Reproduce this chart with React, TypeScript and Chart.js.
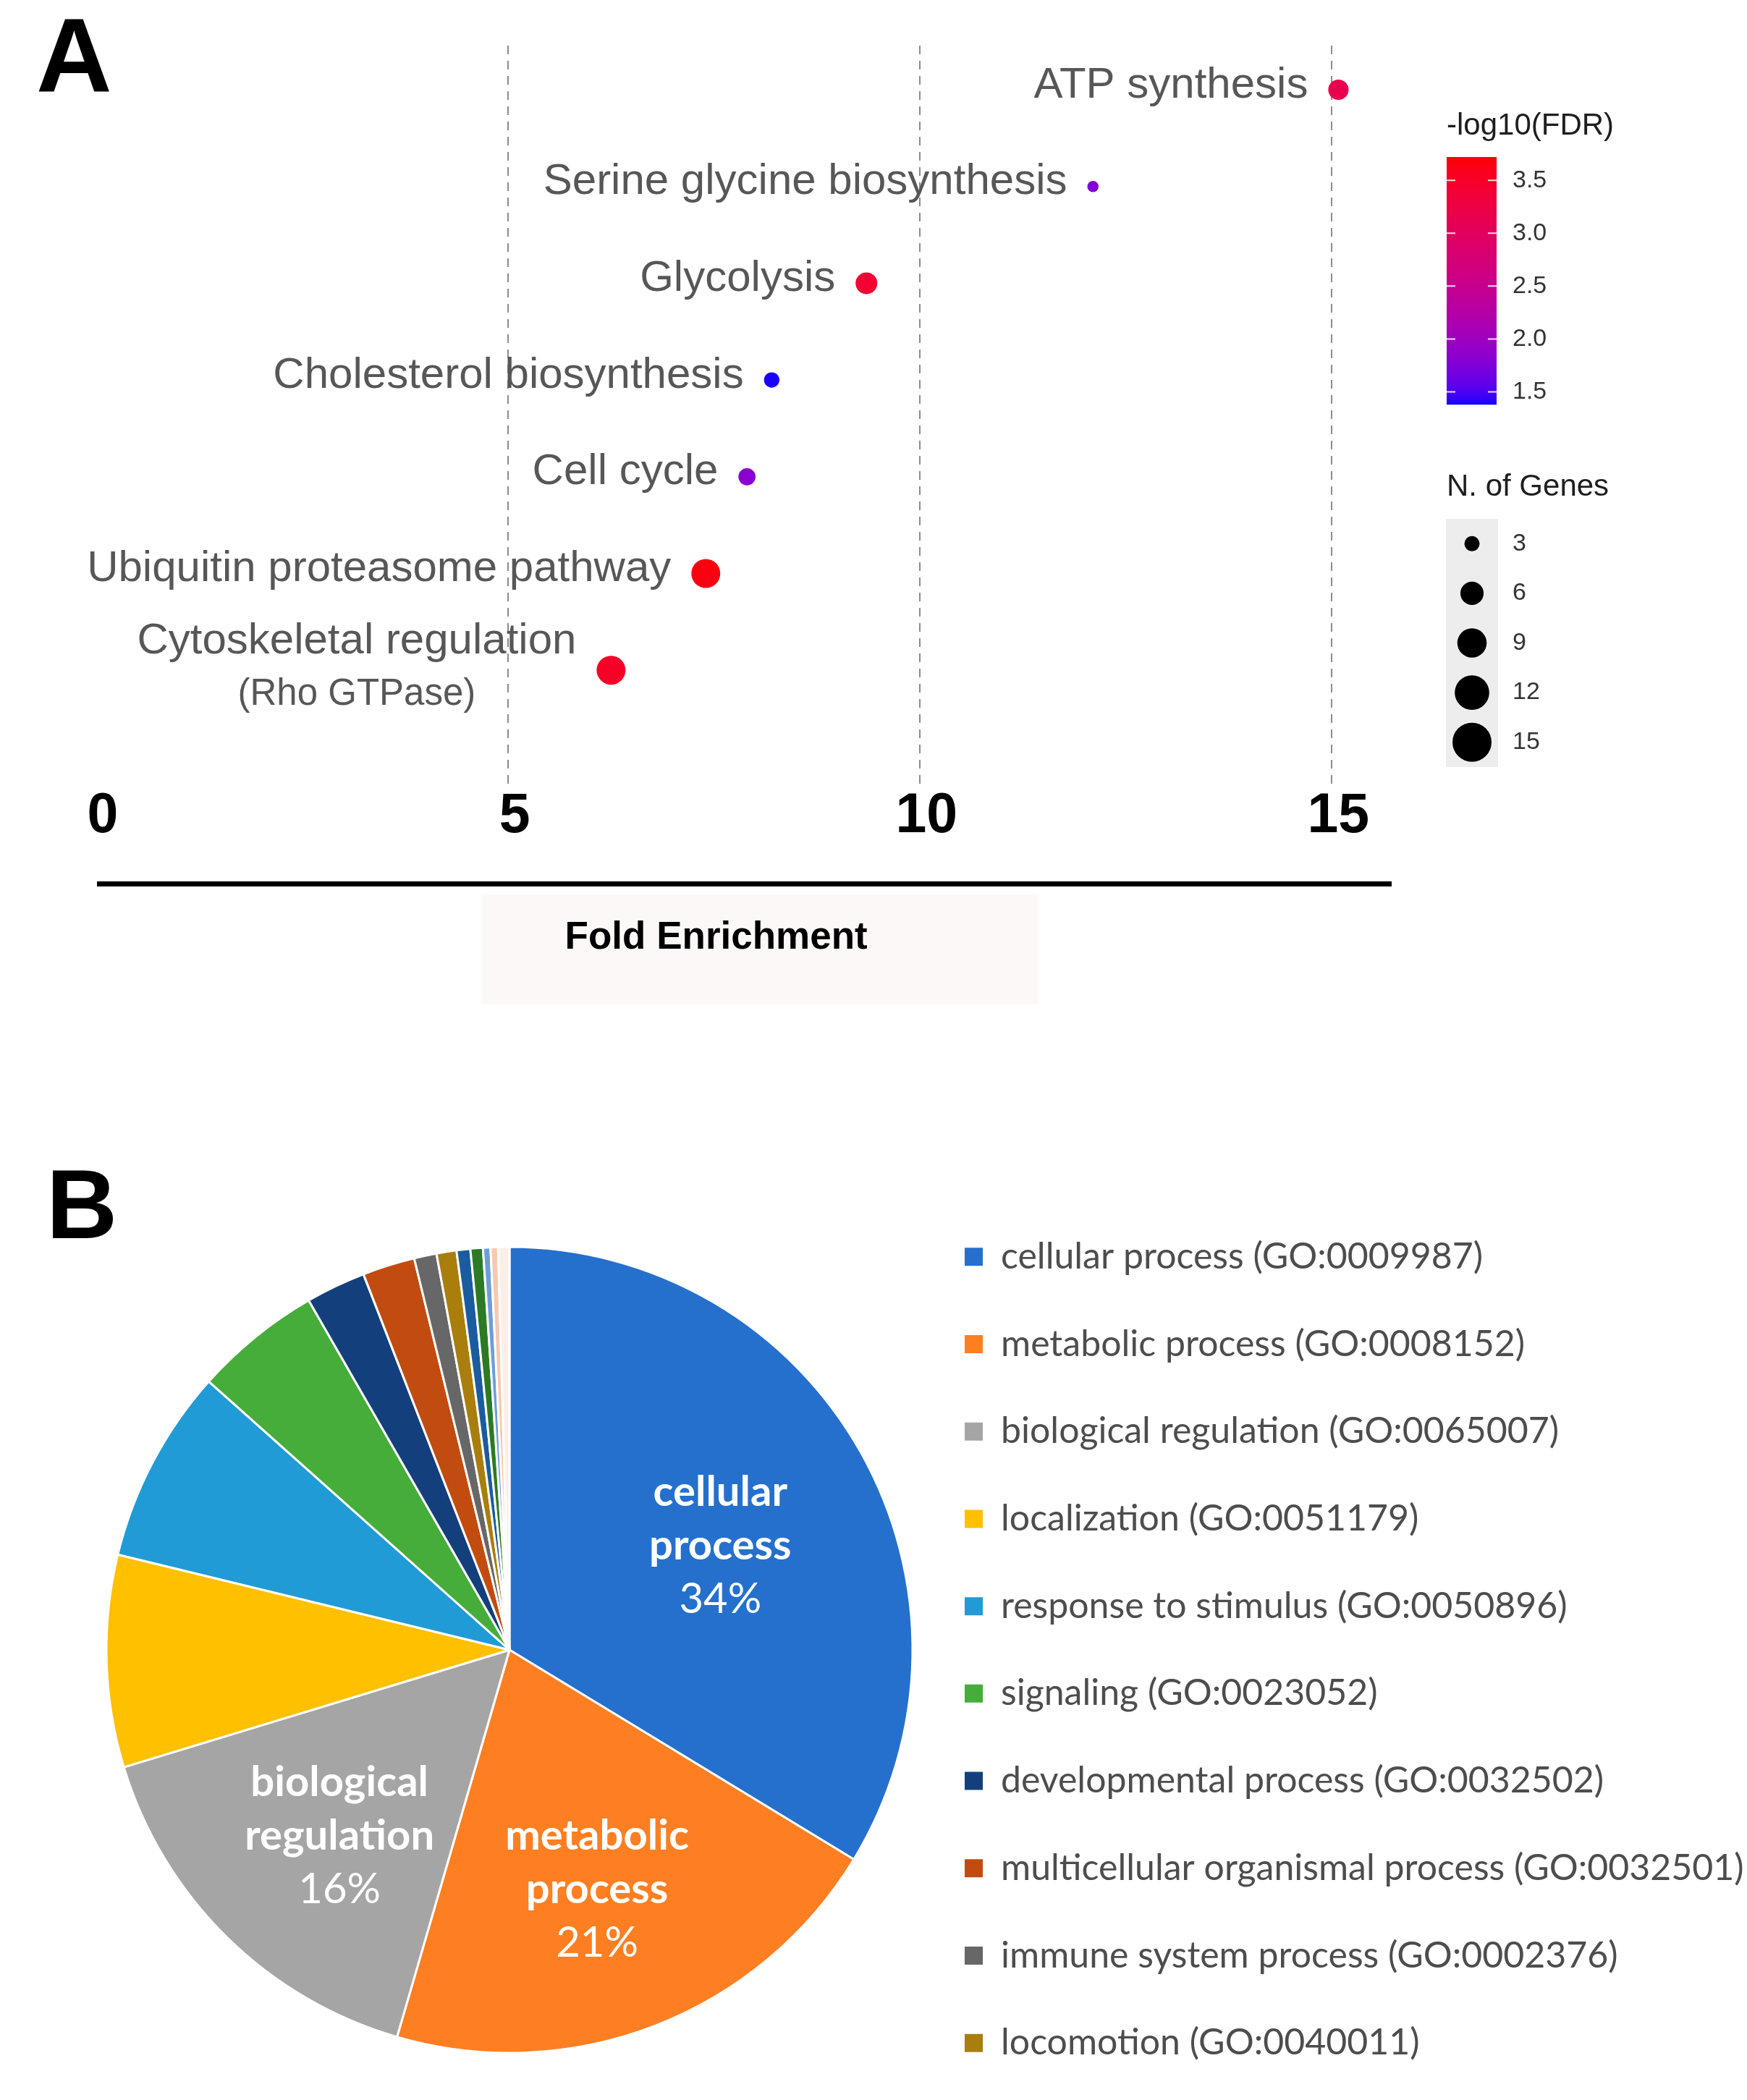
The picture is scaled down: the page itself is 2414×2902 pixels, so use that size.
import React, { useEffect, useRef } from 'react';
import { Chart, registerables } from 'chart.js';

Chart.register(...registerables);

// ---------- Panel A data ----------
const pathwayNames = [
  'ATP synthesis',
  'Serine glycine biosynthesis',
  'Glycolysis',
  'Cholesterol biosynthesis',
  'Cell cycle',
  'Ubiquitin proteasome pathway',
  'Cytoskeletal regulation\n(Rho GTPase)',
];
const foldEnrichment = [15.08, 12.1, 9.35, 8.2, 7.9, 7.4, 6.25];
const negLog10FDR = [3.15, 1.78, 3.4, 1.4, 1.82, 3.65, 3.5];
const geneCounts = [8, 3, 9, 5, 6, 15, 15];
const xTickStep = 5;
const fdrLegendTicks = [1.5, 2.0, 2.5, 3.0, 3.5];
const fdrRange = [1.38, 3.72];
const geneLegendTicks = [3, 6, 9, 12, 15];
const geneRange = [3, 15];

// ---------- Panel B data ----------
const goTerms = [
  'cellular process (GO:0009987)',
  'metabolic process (GO:0008152)',
  'biological regulation (GO:0065007)',
  'localization (GO:0051179)',
  'response to stimulus (GO:0050896)',
  'signaling (GO:0023052)',
  'developmental process (GO:0032502)',
  'multicellular organismal process (GO:0032501)',
  'immune system process (GO:0002376)',
  'locomotion (GO:0040011)',
  'biological adhesion (GO:0022610)',
  'reproduction (GO:0000003)',
  'growth (GO:0040007)',
  'rhythmic process (GO:0048511)',
  'behavior (GO:0007610)',
];
const goPercents = [33.7, 20.8, 15.8, 8.5, 7.8, 5.1, 2.4, 2.1, 0.9, 0.8, 0.55, 0.5, 0.3, 0.3, 0.45];
const goColors = [
  '#2570cc', '#fd7f22', '#a5a5a5', '#ffc000', '#219bd6', '#46ad3a', '#143f7d', '#c24b0f',
  '#676767', '#a97e0c', '#1a5c9e', '#2d7a24', '#6d9dd8', '#f9c7b0', '#fbeee8',
];
const legendCount = 10;
const labelledSlices = 3;

// ---------- helpers ----------
const SANS = '"Liberation Sans", Arial, Helvetica, sans-serif';
const LATO = 'Lato';

function lin(c: number) { c /= 255; return c <= 0.04045 ? c / 12.92 : Math.pow((c + 0.055) / 1.055, 2.4); }
function unlin(c: number) {
  const v = c <= 0.0031308 ? 12.92 * c : 1.055 * Math.pow(c, 1 / 2.4) - 0.055;
  return Math.round(Math.max(0, Math.min(1, v)) * 255);
}
function rgbToLab(rgb: number[]) {
  const R = lin(rgb[0]), G = lin(rgb[1]), B = lin(rgb[2]);
  const X = (0.4124 * R + 0.3576 * G + 0.1805 * B) / 0.95047;
  const Y = 0.2126 * R + 0.7152 * G + 0.0722 * B;
  const Z = (0.0193 * R + 0.1192 * G + 0.9505 * B) / 1.08883;
  const f = (t: number) => (t > 0.008856 ? Math.cbrt(t) : 7.787 * t + 16 / 116);
  const fx = f(X), fy = f(Y), fz = f(Z);
  return [116 * fy - 16, 500 * (fx - fy), 200 * (fy - fz)];
}
function labToRgb(lab: number[]) {
  const fy = (lab[0] + 16) / 116, fx = fy + lab[1] / 500, fz = fy - lab[2] / 200;
  const inv = (t: number) => (t * t * t > 0.008856 ? t * t * t : (t - 16 / 116) / 7.787);
  const X = inv(fx) * 0.95047, Y = inv(fy), Z = inv(fz) * 1.08883;
  const R = 3.2406 * X - 1.5372 * Y - 0.4986 * Z;
  const G = -0.9689 * X + 1.8758 * Y + 0.0415 * Z;
  const B = 0.0557 * X - 0.204 * Y + 1.057 * Z;
  return `rgb(${unlin(R)},${unlin(G)},${unlin(B)})`;
}
const LOW = rgbToLab([0, 0, 255]);
const HIGH = rgbToLab([255, 0, 0]);
function fdrColor(v: number) {
  const t = Math.max(0, Math.min(1, (v - fdrRange[0]) / (fdrRange[1] - fdrRange[0])));
  return labToRgb([0, 1, 2].map((k) => LOW[k] + (HIGH[k] - LOW[k]) * t));
}
function geneRadius(n: number) {
  const s0 = Math.sqrt(geneRange[0]), s1 = Math.sqrt(geneRange[1]);
  return 10.5 + 16.5 * (Math.sqrt(n) - s0) / (s1 - s0);
}
const PLOT_SIZE_SCALE = 0.74;

// ---------- plugins for panel A ----------
const pathwayLabelPlugin = {
  id: 'pathwayLabels',
  afterDatasetsDraw(chart: any) {
    const ctx = chart.ctx;
    const meta = chart.getDatasetMeta(0);
    ctx.save();
    ctx.fillStyle = '#575757';
    ctx.textBaseline = 'middle';
    ctx.textAlign = 'center';
    meta.data.forEach((pt: any, i: number) => {
      const r = pt.options.radius;
      const lines = pathwayNames[i].split('\n');
      const fonts = lines.map((_, k) => (k === 0 ? `60px ${SANS}` : `51px ${SANS}`));
      const widths = lines.map((l, k) => { ctx.font = fonts[k]; return ctx.measureText(l).width; });
      const blockW = Math.max(...widths);
      const right = pt.x - r - 28;
      const cx = right - blockW / 2;
      const gap = 67;
      const y0 = pt.y - 6 - ((lines.length - 1) * gap) / 2;
      lines.forEach((l, k) => {
        ctx.font = fonts[k];
        ctx.fillText(l, cx, y0 + k * gap + (k > 0 ? 6 : 0));
      });
    });
    ctx.restore();
  },
};

const axisLinePlugin = {
  id: 'axisLine',
  beforeDraw(chart: any) {
    const { ctx, chartArea } = chart;
    ctx.save();
    ctx.fillStyle = '#fdf8f8';
    ctx.fillRect(chartArea.left + 533, chartArea.bottom + 146, 769, 152);
    ctx.restore();
  },
  afterDraw(chart: any) {
    const { ctx, chartArea } = chart;
    ctx.save();
    ctx.fillStyle = '#000';
    ctx.fillRect(chartArea.left + 1, chartArea.bottom + 128, chartArea.right - chartArea.left + 2, 7);
    ctx.restore();
  },
};

const scaleLegendPlugin = {
  id: 'scaleLegends',
  afterDraw(chart: any) {
    const { ctx, chartArea } = chart;
    const x0 = chartArea.right + 79;
    ctx.save();
    ctx.fillStyle = '#1e1e1e';
    ctx.textAlign = 'left';
    ctx.textBaseline = 'middle';
    ctx.font = `42px ${SANS}`;
    ctx.fillText('-log10(FDR)', x0, 174);
    const top = 217, bottom = 559, w = 69;
    for (let y = top; y < bottom; y++) {
      const v = fdrRange[1] - ((y - top + 0.5) / (bottom - top)) * (fdrRange[1] - fdrRange[0]);
      ctx.fillStyle = fdrColor(v);
      ctx.fillRect(x0, y, w, 1.2);
    }
    const yOf = (v: number) => bottom - ((v - fdrRange[0]) / (fdrRange[1] - fdrRange[0])) * (bottom - top);
    ctx.strokeStyle = 'rgba(255,255,255,0.85)';
    ctx.lineWidth = 2;
    ctx.font = `34px ${SANS}`;
    fdrLegendTicks.forEach((v) => {
      const y = yOf(v);
      ctx.beginPath();
      ctx.moveTo(x0, y); ctx.lineTo(x0 + 12, y);
      ctx.moveTo(x0 + w - 12, y); ctx.lineTo(x0 + w, y);
      ctx.stroke();
      ctx.fillStyle = '#333';
      ctx.fillText(v.toFixed(1), x0 + 91, y);
    });
    ctx.fillStyle = '#1e1e1e';
    ctx.font = `42px ${SANS}`;
    ctx.fillText('N. of Genes', x0, 673);
    const keyTop = 717, keyH = 68.6;
    ctx.fillStyle = '#ededed';
    ctx.fillRect(x0 - 1, keyTop, 72, keyH * geneLegendTicks.length);
    ctx.font = `34px ${SANS}`;
    geneLegendTicks.forEach((n, i) => {
      const cy = keyTop + keyH * (i + 0.5);
      ctx.fillStyle = '#000';
      ctx.beginPath();
      ctx.arc(x0 + 35, cy, geneRadius(n), 0, Math.PI * 2);
      ctx.fill();
      ctx.fillStyle = '#333';
      ctx.fillText(String(n), x0 + 91, cy);
    });
    ctx.restore();
  },
};

// ---------- plugin for panel B ----------
const pieLabelPlugin = {
  id: 'pieLabels',
  afterDatasetsDraw(chart: any) {
    const ctx = chart.ctx;
    const meta = chart.getDatasetMeta(0);
    const total = goPercents.reduce((a, b) => a + b, 0);
    ctx.save();
    ctx.fillStyle = '#ffffff';
    ctx.textAlign = 'center';
    ctx.textBaseline = 'middle';
    for (let i = 0; i < labelledSlices; i++) {
      const arc = meta.data[i];
      const p = arc.getProps(['x', 'y', 'startAngle', 'endAngle', 'outerRadius'], true);
      const mid = (p.startAngle + p.endAngle) / 2;
      const r = p.outerRadius * 0.6;
      const cx = p.x + Math.cos(mid) * r;
      const cy = p.y + Math.sin(mid) * r + 20;
      const words = goTerms[i].split(' (')[0].split(' ');
      const lines = [...words, `${Math.round((goPercents[i] / total) * 100)}%`];
      const gap = 74;
      const y0 = cy - ((lines.length - 1) * gap) / 2;
      lines.forEach((l, k) => {
        ctx.font = k < words.length ? `bold 58px ${LATO}` : `58px ${LATO}`;
        ctx.fillText(l, cx, y0 + k * gap);
      });
    }
    ctx.restore();
  },
};

export default function App() {
  const refA = useRef<HTMLCanvasElement | null>(null);
  const refB = useRef<HTMLCanvasElement | null>(null);

  useEffect(() => {
    if (!refA.current || !refB.current) return;

    const chartA = new Chart(refA.current, {
      type: 'scatter',
      data: {
        datasets: [
          {
            data: foldEnrichment.map((x, i) => ({ x, y: pathwayNames.length - i })),
            backgroundColor: (c: any) => fdrColor(negLog10FDR[c.dataIndex]),
            pointRadius: (c: any) => PLOT_SIZE_SCALE * geneRadius(geneCounts[c.dataIndex]),
            pointHoverRadius: (c: any) => PLOT_SIZE_SCALE * geneRadius(geneCounts[c.dataIndex]),
            pointBorderWidth: 0,
            borderWidth: 0,
          } as any,
        ],
      },
      options: {
        responsive: false,
        maintainAspectRatio: false,
        animation: false,
        events: [],
        layout: { padding: { left: 133, right: 494, top: 63, bottom: 0 } },
        plugins: { legend: { display: false }, tooltip: { enabled: false } },
        scales: {
          x: {
            type: 'linear',
            min: 0,
            max: 15.7,
            afterFit: (s: any) => { s.height = 330; },
            ticks: {
              stepSize: xTickStep,
              includeBounds: false,
              padding: 0,
              labelOffset: 9,
              color: '#000',
              font: { family: SANS, size: 77, weight: 'bold', lineHeight: 1 },
            },
            grid: {
              color: (c: any) => (c.tick && c.tick.value === 0 ? 'rgba(0,0,0,0)' : '#8c8c8c'),
              lineWidth: 2,
              drawTicks: false,
            },
            border: { display: false, dash: [12, 9] },
            title: {
              display: true,
              text: 'Fold Enrichment     ',
              color: '#000',
              font: { family: SANS, size: 53, weight: 'bold', lineHeight: 1.2 },
              padding: { top: 0, bottom: 92 },
            },
          } as any,
          y: { type: 'linear', display: false, min: -0.225, max: 7.456 },
        },
      },
      plugins: [axisLinePlugin, pathwayLabelPlugin, scaleLegendPlugin],
    });

    // legend geometry for panel B
    const legendFontSize = 50;
    const rowSpacing = 120.7;
    const legendPad = rowSpacing - legendFontSize;
    const boxLeft = 1333;
    const pieCenterX = 704;
    const mctx = document.createElement('canvas').getContext('2d')!;
    mctx.font = `normal ${legendFontSize}px ${LATO}`;
    const textW = Math.max(...goTerms.slice(0, legendCount).map((t) => mctx.measureText(t).width));
    const canvasBW = 2600;
    const colWidth = 25 + legendFontSize / 2 + textW;
    const padRight = canvasBW - (boxLeft + colWidth + 10);
    const chartRight = boxLeft - legendPad;
    const padLeft = 2 * pieCenterX - chartRight;

    const chartB = new Chart(refB.current, {
      type: 'pie',
      data: {
        labels: goTerms,
        datasets: [
          {
            data: goPercents,
            backgroundColor: goColors,
            borderColor: '#ffffff',
            borderWidth: 3,
            radius: 557,
          } as any,
        ],
      },
      options: {
        responsive: false,
        maintainAspectRatio: false,
        animation: false,
        events: [],
        radius: 557,
        layout: { padding: { left: padLeft, right: padRight, top: 0, bottom: 0 } },
        plugins: {
          tooltip: { enabled: false },
          legend: {
            position: 'right',
            align: 'center',
            maxWidth: 2000,
            labels: {
              boxWidth: 25,
              boxHeight: 25,
              padding: legendPad,
              color: '#4d4d4d',
              font: { family: LATO, size: legendFontSize },
              generateLabels: () =>
                goTerms.slice(0, legendCount).map((t, i) => ({
                  text: t,
                  fillStyle: goColors[i],
                  strokeStyle: goColors[i],
                  lineWidth: 0,
                  hidden: false,
                  index: i,
                  datasetIndex: 0,
                  fontColor: '#4d4d4d',
                })),
            },
          } as any,
        },
      } as any,
      plugins: [pieLabelPlugin],
    });

    return () => {
      chartA.destroy();
      chartB.destroy();
    };
  }, []);

  return (
    <div
      style={{
        position: 'absolute',
        left: 0,
        top: 0,
        width: 2414,
        height: 2902,
        overflow: 'hidden',
        background: '#ffffff',
      }}
    >
      <canvas
        ref={refA}
        width={2414}
        height={1420}
        style={{ position: 'absolute', left: 0, top: 0, width: 2414, height: 1420 }}
      />
      <canvas
        ref={refB}
        width={2600}
        height={1400}
        style={{ position: 'absolute', left: 0, top: 1580, width: 2600, height: 1400 }}
      />
      <div
        style={{
          position: 'absolute',
          left: 50,
          top: 4,
          fontFamily: SANS,
          fontWeight: 'bold',
          fontSize: 145,
          lineHeight: '145px',
          color: '#000',
        }}
      >
        A
      </div>
      <div
        style={{
          position: 'absolute',
          left: 64,
          top: 1596,
          fontFamily: SANS,
          fontWeight: 'bold',
          fontSize: 136,
          lineHeight: '136px',
          color: '#000',
        }}
      >
        B
      </div>
    </div>
  );
}
